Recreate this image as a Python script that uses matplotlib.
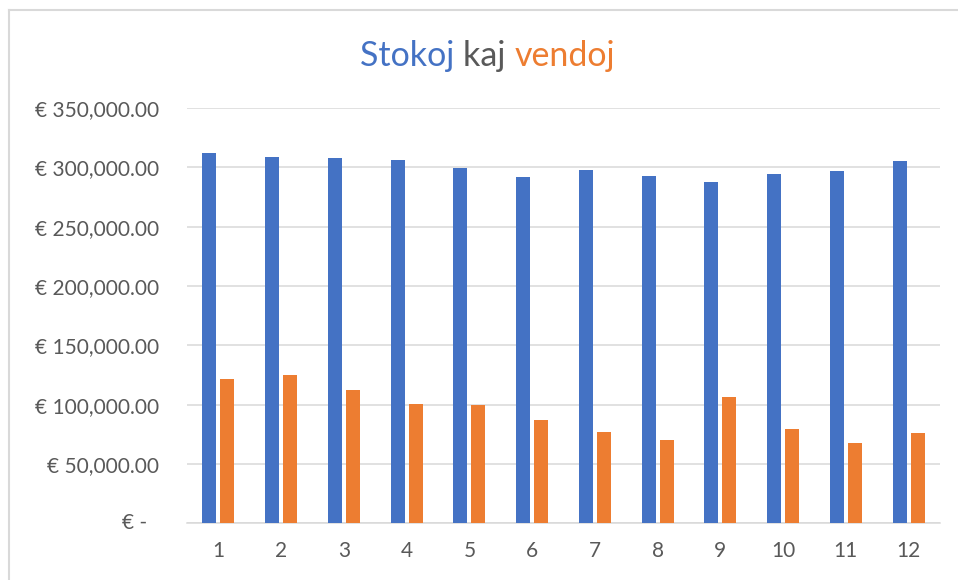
import matplotlib
matplotlib.use("Agg")
import matplotlib.pyplot as plt
from matplotlib.lines import Line2D
from matplotlib.ticker import FuncFormatter
import numpy as np

# --- données ---
mois = ["1", "2", "3", "4", "5", "6", "7", "8", "9", "10", "11", "12"]
stokoj = [312500, 308900, 308300, 306600, 299600, 292000,
          297900, 292800, 287800, 294800, 297000, 305200]
vendoj = [121900, 124800, 112100, 100800, 100000, 86800,
          77200, 70000, 106200, 79800, 67400, 76100]
yticks = [0, 50000, 100000, 150000, 200000, 250000, 300000, 350000]

BLUE, ORANGE, GREY = "#4472C4", "#ED7D31", "#595959"
FONT = "Lato"

W, H = 958, 580
fig = plt.figure(figsize=(W / 100, H / 100), dpi=100)
ax = fig.add_axes([187 / W, 1 - 523.3 / H, (940 - 187) / W, (523.3 - 108.2) / H])

x = np.arange(len(mois))
bw = 0.224
ax.bar(x - 0.144, stokoj, width=bw, color=BLUE, zorder=3)
ax.bar(x + 0.144, vendoj, width=bw, color=ORANGE, zorder=3)

ax.set_xlim(-0.5, len(mois) - 0.5)
ax.set_ylim(0, 350000)
ax.set_xticks(x, mois)
ax.set_yticks(yticks)
ax.yaxis.set_major_formatter(FuncFormatter(lambda v, p: "" if v == 0 else f"€ {v:,.2f}"))
ax.annotate("€ -", xy=(0, 0), xycoords=("axes fraction", "data"),
            xytext=(-40, 0), textcoords="offset pixels", ha="right", va="center",
            fontsize=15, color=GREY, family=FONT)

ax.grid(axis="y", color="#D9D9D9", lw=1.1, zorder=0)
for s in ["top", "right", "left"]:
    ax.spines[s].set_visible(False)
ax.spines["bottom"].set_color("#D9D9D9")
ax.spines["bottom"].set_linewidth(1.1)
ax.tick_params(length=0, labelsize=15, labelcolor=GREY)
ax.tick_params(axis="y", pad=20)
ax.tick_params(axis="x", pad=13)
for lab in ax.get_xticklabels() + ax.get_yticklabels():
    lab.set_family(FONT)

# bordure du cadre (gauche et haut seulement visibles)
fig.add_artist(Line2D([9 / W, 9 / W], [0, 1 - 10 / H], color="#D9D9D9", lw=1.5))
fig.add_artist(Line2D([9 / W, 1], [1 - 10 / H, 1 - 10 / H], color="#D9D9D9", lw=1.5))

# titre multicolore
parts = [("Stokoj ", BLUE), ("kaj ", GREY), ("vendoj", ORANGE)]
r = fig.canvas.get_renderer()
texts, widths = [], []
for s, c in parts:
    t = fig.text(0, 1 - 56 / H, s, color=c, fontsize=24.5, family=FONT, va="center")
    widths.append(t.get_window_extent(r).width)
    texts.append(t)
x0 = 487.5 - sum(widths) / 2
for t, w in zip(texts, widths):
    t.set_x(x0 / W)
    x0 += w

fig.savefig("out.png", dpi=100)
